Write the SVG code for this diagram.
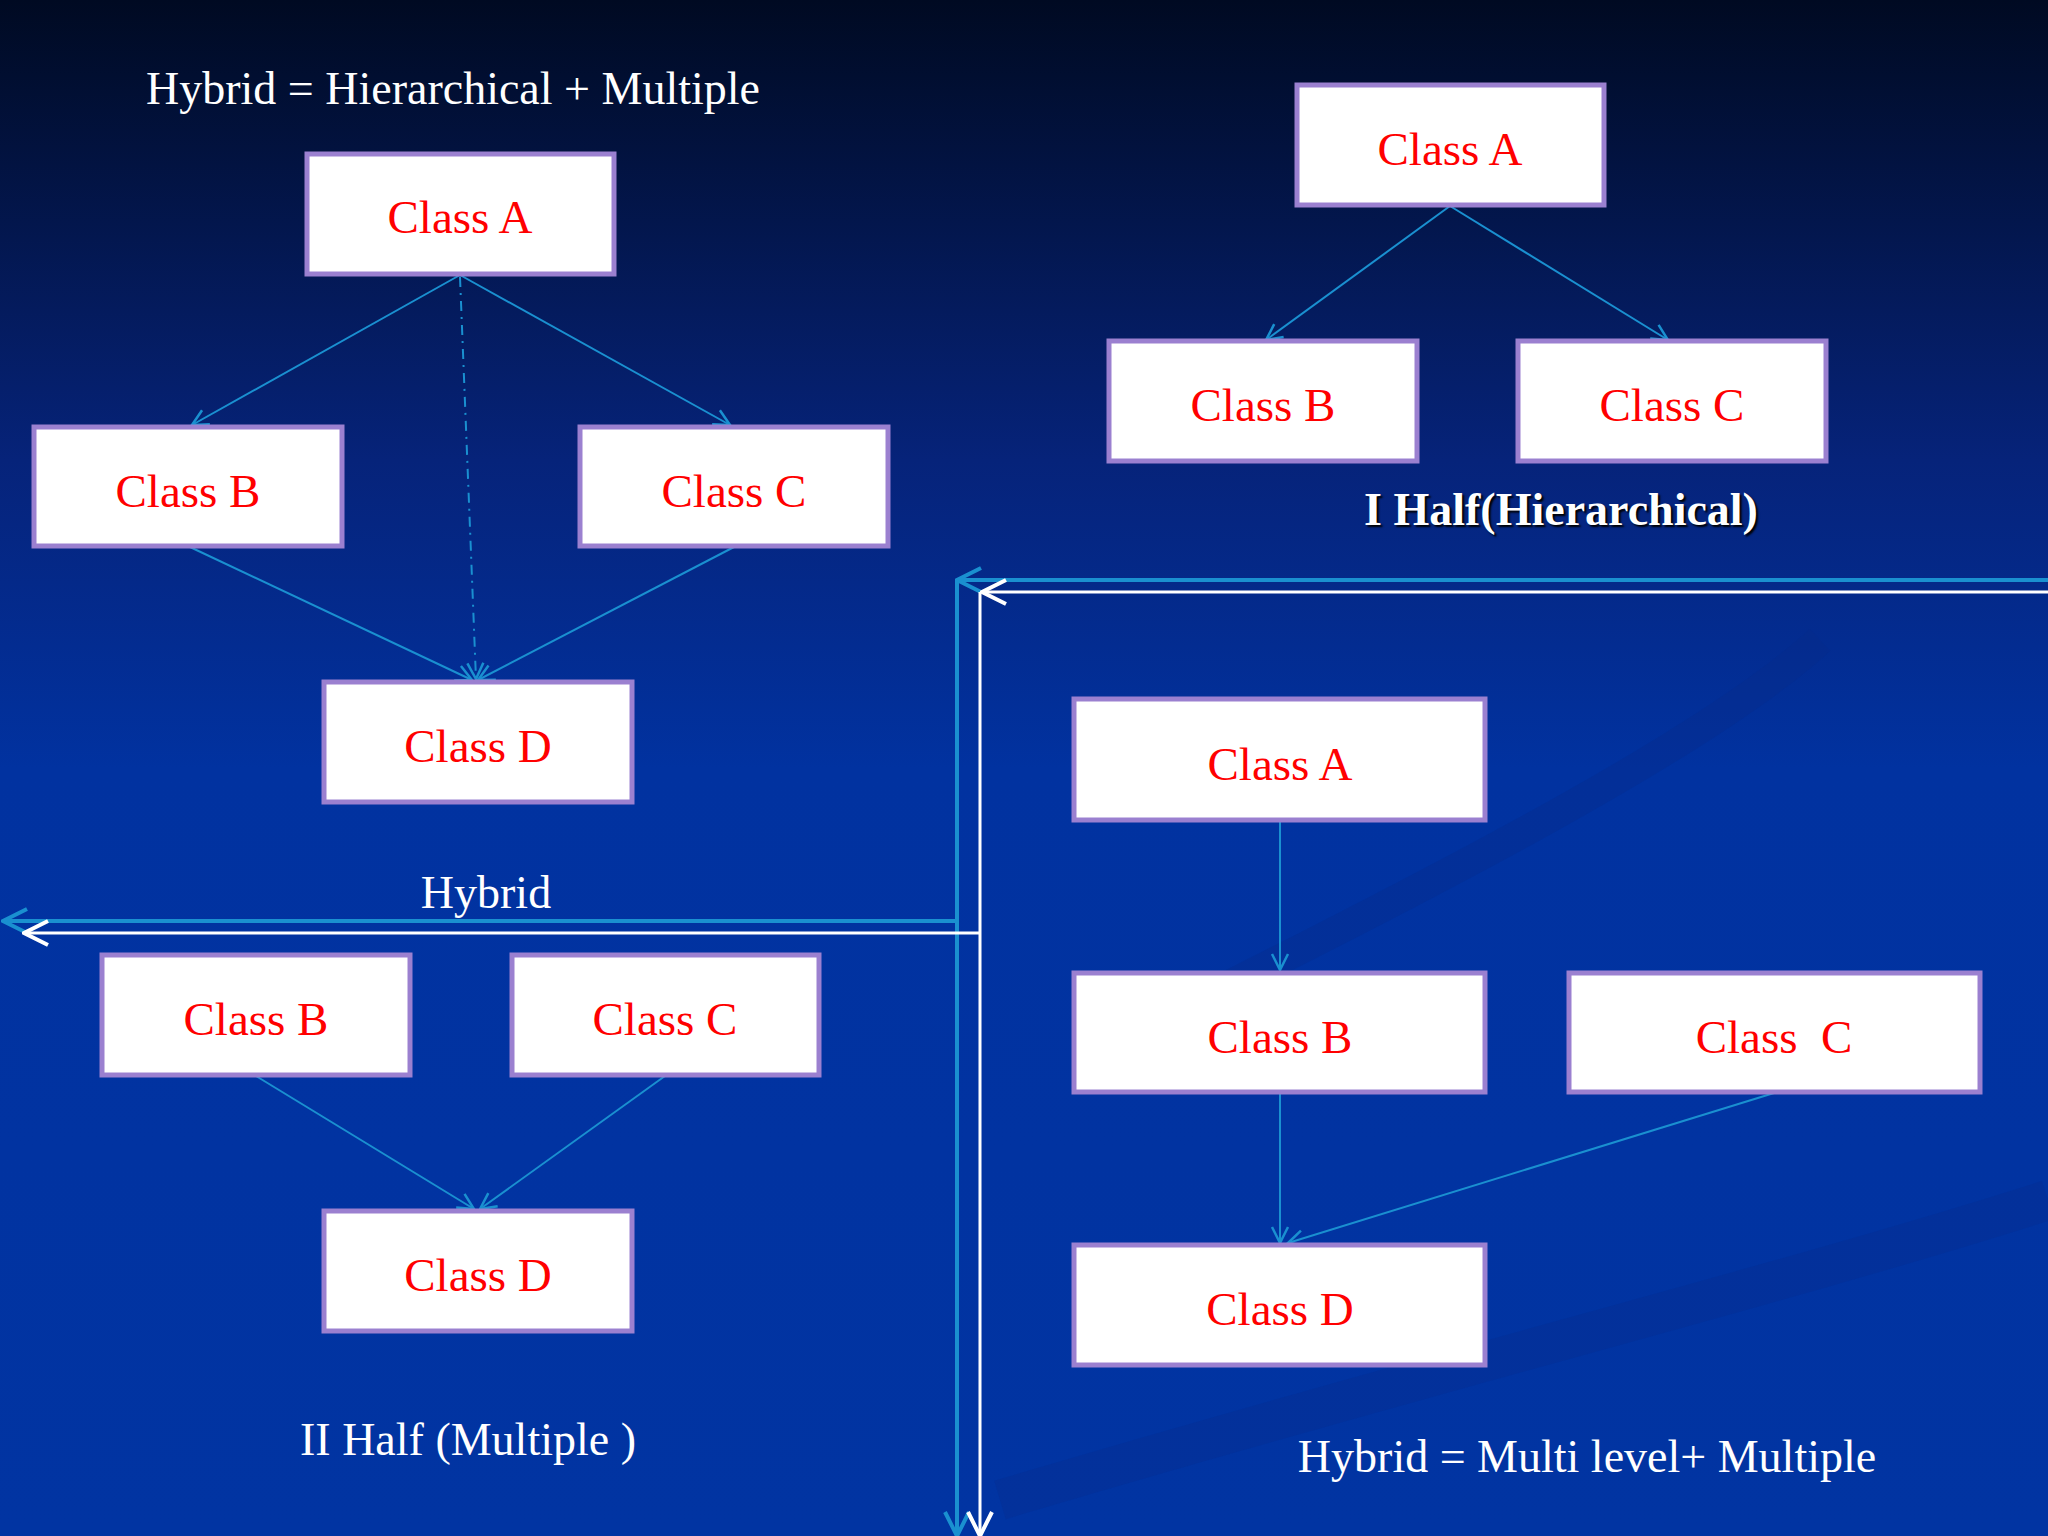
<svg xmlns="http://www.w3.org/2000/svg" width="2048" height="1536" viewBox="0 0 2048 1536">
<defs>
<linearGradient id="bg" x1="0" y1="0" x2="0" y2="1">
<stop offset="0" stop-color="#000a22"/>
<stop offset="0.3" stop-color="#06237a"/>
<stop offset="0.5" stop-color="#0132a0"/>
<stop offset="1" stop-color="#0134a2"/>
</linearGradient>
<marker id="ac" viewBox="0 0 20 20" refX="18" refY="10" markerWidth="20" markerHeight="20" markerUnits="userSpaceOnUse" orient="auto"><path d="M2,2 L18,10 L2,18" fill="none" stroke="#1a90d0" stroke-width="2.5"/></marker>
<marker id="bc" viewBox="0 0 30 30" refX="28" refY="15" markerWidth="30" markerHeight="30" markerUnits="userSpaceOnUse" orient="auto"><path d="M4,3 L28,15 L4,27" fill="none" stroke="#1a90d0" stroke-width="4"/></marker>
<marker id="bw" viewBox="0 0 30 30" refX="28" refY="15" markerWidth="30" markerHeight="30" markerUnits="userSpaceOnUse" orient="auto"><path d="M4,3 L28,15 L4,27" fill="none" stroke="#ffffff" stroke-width="4"/></marker>
</defs>
<style>
.box{fill:#fff;stroke:#9b80d0;stroke-width:5}
.lbl{font-family:"Liberation Serif",serif;font-size:47px;fill:#ff0000;text-anchor:middle}
.cap{font-family:"Liberation Serif",serif;font-size:46px;fill:#fff}
.c{stroke:#1a90d0;stroke-width:2;fill:none;marker-end:url(#ac)}
</style>
<rect width="2048" height="1536" fill="url(#bg)"/>
<path d="M1100,1050 C1400,900 1700,750 1820,640" stroke="#0a2a8a" stroke-width="30" fill="none" opacity="0.35"/>
<path d="M1000,1500 C1400,1380 1800,1280 2048,1200" stroke="#0a2a8a" stroke-width="40" fill="none" opacity="0.3"/>

<text class="cap" x="146" y="104">Hybrid = Hierarchical + Multiple</text>
<text class="cap" x="1561" y="525" font-weight="bold" text-anchor="middle" style="text-shadow:2px 2px 2px #000">I Half(Hierarchical)</text>
<text class="cap" x="486" y="908" text-anchor="middle">Hybrid</text>
<text class="cap" x="468" y="1455" text-anchor="middle">II Half (Multiple )</text>
<text class="cap" x="1587" y="1472" text-anchor="middle">Hybrid = Multi level+ Multiple</text>

<g id="connectors">
<line class="c" x1="460" y1="275" x2="192" y2="425"/>
<line class="c" x1="460" y1="275" x2="730" y2="425"/>
<line class="c" x1="460" y1="277" x2="476" y2="679" stroke-dasharray="10,6,2,6"/>
<line class="c" x1="190" y1="547" x2="472" y2="680"/>
<line class="c" x1="734" y1="547" x2="478" y2="680"/>
<line class="c" x1="1450" y1="206" x2="1266" y2="340"/>
<line class="c" x1="1450" y1="206" x2="1668" y2="340"/>
<line class="c" x1="1280" y1="821" x2="1280" y2="970"/>
<line class="c" x1="1280" y1="1093" x2="1280" y2="1243"/>
<line class="c" x1="1774" y1="1093" x2="1288" y2="1243"/>
<line class="c" x1="256" y1="1076" x2="474" y2="1209"/>
<line class="c" x1="665" y1="1076" x2="480" y2="1209"/>
<polyline points="2048,580 957,580" fill="none" stroke="#1a90d0" stroke-width="4" marker-end="url(#bc)"/>
<polyline points="2048,592 982,592" fill="none" stroke="#fff" stroke-width="3" marker-end="url(#bw)"/>
<polyline points="957,580 957,1536" fill="none" stroke="#1a90d0" stroke-width="4" marker-end="url(#bc)"/>
<polyline points="980,592 980,1536" fill="none" stroke="#fff" stroke-width="3" marker-end="url(#bw)"/>
<polyline points="957,921 3,921" fill="none" stroke="#1a90d0" stroke-width="4" marker-end="url(#bc)"/>
<polyline points="980,933 24,933" fill="none" stroke="#fff" stroke-width="3" marker-end="url(#bw)"/>
</g>

<g id="lA"><rect class="box" x="307" y="154" width="307" height="120"/><text class="lbl" x="460" y="233">Class A</text></g>
<g id="lB"><rect class="box" x="34" y="427" width="308" height="119"/><text class="lbl" x="188" y="507">Class B</text></g>
<g id="lC"><rect class="box" x="580" y="427" width="308" height="119"/><text class="lbl" x="734" y="507">Class C</text></g>
<g id="lD"><rect class="box" x="324" y="682" width="308" height="120"/><text class="lbl" x="478" y="762">Class D</text></g>
<g id="tA"><rect class="box" x="1297" y="85" width="307" height="120"/><text class="lbl" x="1450" y="165">Class A</text></g>
<g id="tB"><rect class="box" x="1109" y="341" width="308" height="120"/><text class="lbl" x="1263" y="421">Class B</text></g>
<g id="tC"><rect class="box" x="1518" y="341" width="308" height="120"/><text class="lbl" x="1672" y="421">Class C</text></g>
<g id="rA"><rect class="box" x="1074" y="699" width="411" height="121"/><text class="lbl" x="1280" y="780">Class A</text></g>
<g id="rB"><rect class="box" x="1074" y="973" width="411" height="119"/><text class="lbl" x="1280" y="1053">Class B</text></g>
<g id="rC"><rect class="box" x="1569" y="973" width="411" height="119"/><text class="lbl" x="1774" y="1053" xml:space="preserve">Class  C</text></g>
<g id="rD"><rect class="box" x="1074" y="1245" width="411" height="120"/><text class="lbl" x="1280" y="1325">Class D</text></g>
<g id="bB"><rect class="box" x="102" y="955" width="308" height="120"/><text class="lbl" x="256" y="1035">Class B</text></g>
<g id="bC"><rect class="box" x="512" y="955" width="307" height="120"/><text class="lbl" x="665" y="1035">Class C</text></g>
<g id="bD"><rect class="box" x="324" y="1211" width="308" height="120"/><text class="lbl" x="478" y="1291">Class D</text></g>
</svg>
